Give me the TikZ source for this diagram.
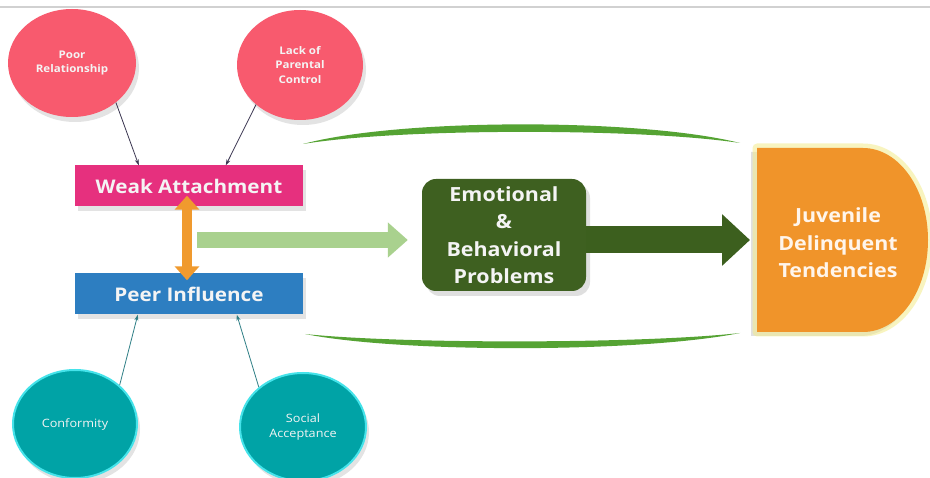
\documentclass[tikz,border=0pt]{standalone}
\usepackage{fontspec}
\setmainfont{Open Sans}[FakeStretch=1.1]
\usetikzlibrary{shapes.geometric,arrows.meta,shadows}

\definecolor{cause}{HTML}{F85A6E}
\definecolor{attach}{HTML}{E6307E}
\definecolor{peer}{HTML}{2D7EC1}
\definecolor{social}{HTML}{00A3A6}
\definecolor{socialrim}{HTML}{45E3EA}
\definecolor{linkpeer}{HTML}{2F7F86}
\definecolor{linkcause}{HTML}{3A3550}
\definecolor{mutual}{HTML}{F09A2E}
\definecolor{flowlight}{HTML}{A9D18E}
\definecolor{problem}{HTML}{3E6020}
\definecolor{flowdark}{HTML}{3C5F1E}
\definecolor{outcome}{HTML}{F0942A}
\definecolor{glow}{HTML}{F4EC8C}
\definecolor{frame}{HTML}{55A333}
\definecolor{textlight}{HTML}{F4F4F4}

\tikzset{
  softshadow/.style={drop shadow={opacity=0.22, shadow xshift=3pt, shadow yshift=-5pt}},
  causecircle/.style={ellipse, fill=cause, minimum width=128pt, minimum height=108pt,
    inner sep=0pt, align=center, font=\bfseries\fontsize{10.5}{14.5}\selectfont,
    text=textlight, softshadow},
  peercircle/.style={ellipse, fill=social, draw=socialrim, line width=2pt,
    minimum width=124pt, minimum height=108pt, inner sep=0pt, align=center,
    font=\fontsize{11.5}{14.5}\selectfont, text=textlight, softshadow},
  factorbox/.style={rectangle, minimum width=228pt, minimum height=41pt, inner sep=0pt,
    font=\bfseries\fontsize{18.8}{22}\selectfont, text=textlight, softshadow},
  bigtext/.style={align=center, font=\bfseries\fontsize{19.5}{27.5}\selectfont},
  causelink/.style={draw=linkcause, line width=0.8pt, -{Stealth[length=6pt,width=4pt]}},
  peerlink/.style={draw=linkpeer, line width=0.8pt, -{Stealth[length=6pt,width=4pt]}},
}

\begin{document}
\begin{tikzpicture}[x=1pt, y=-1pt]
  \useasboundingbox (0,0) rectangle (930,478);
  \fill[white] (0,0) rectangle (930,478);
  % thin rule along the top edge
  \draw[black!18, line width=1.5pt] (0,7) -- (930,7);

  % influencing factors
  \node[causecircle] (poor) at (72,63) {Poor\\Relationship};
  \node[causecircle, minimum width=126pt, minimum height=110pt] (lack) at (300,65) {Lack of\\Parental\\Control};
  \node[peercircle] (conf) at (75,424) {Conformity};
  \node[peercircle, minimum width=126pt] (acc) at (303,427) {Social\\Acceptance};

  \node[factorbox, fill=attach] (weak) at (189,186) {Weak Attachment};
  \node[factorbox, fill=peer] (infl) at (189,294) {Peer Influence};

  \draw[causelink] (poor.-42) -- ([xshift=64pt]weak.north west);
  \draw[causelink] (lack.-138) -- ([xshift=151pt]weak.north west);
  \draw[peerlink] (conf.41) -- ([xshift=63pt]infl.south west);
  \draw[peerlink] (acc.138) -- ([xshift=162pt]infl.south west);

  % two-way link between the factors
  \draw[mutual, line width=10pt,
        {Triangle[width=24pt,length=14pt]}-{Triangle[width=24pt,length=14pt]}]
    ([xshift=-2pt,yshift=11pt]weak.south) -- ([xshift=-2pt,yshift=-7pt]infl.north);

  % outer frame lines
  \fill[frame] (303,144) .. controls (400,118) and (640,118) .. (740,143)
               .. controls (640,128) and (400,128) .. cycle;
  \fill[frame] (305,334) .. controls (400,353) and (640,353) .. (740,333)
               .. controls (640,344) and (400,344) .. cycle;

  % emotional and behavioral problems
  \node[rectangle, rounded corners=14pt, fill=problem, minimum width=164pt,
        minimum height=112pt, text=textlight, bigtext,
        drop shadow={opacity=0.25, shadow xshift=4pt, shadow yshift=-5pt}]
        (emo) at (504,235) {Emotional\\\&\\Behavioral\\Problems};

  \coordinate (merge) at (197,240);
  \draw[flowlight, line width=16pt, -{Triangle[width=34pt,length=20pt]}]
    (merge) -- ([xshift=-14pt]emo.west |- merge);

  % outcome
  \coordinate (juvw) at (757,240);
  \path[fill=black, opacity=0.12]
    (751,152) -- (860,152) .. controls (896,152) and (924,194) .. (924,244)
    .. controls (924,294) and (896,336) .. (860,336) -- (751,336) -- cycle;
  \draw[glow, line width=9pt, opacity=0.55, line join=round]
    (757,148) -- (863,148) .. controls (899,148) and (928,189) .. (928,240)
    .. controls (928,291) and (899,332) .. (863,332) -- (757,332) -- cycle;
  \fill[outcome]
    (757,148) -- (863,148) .. controls (899,148) and (928,189) .. (928,240)
    .. controls (928,291) and (899,332) .. (863,332) -- (757,332) -- cycle;
  \node[bigtext, text=white!92!orange] (juv) at (838,243) {Juvenile\\Delinquent\\Tendencies};

  \draw[flowdark, line width=27pt, -{Triangle[width=50pt,length=28pt]}]
    (emo.east |- juvw) -- ([xshift=-7pt]juvw);
\end{tikzpicture}
\end{document}
